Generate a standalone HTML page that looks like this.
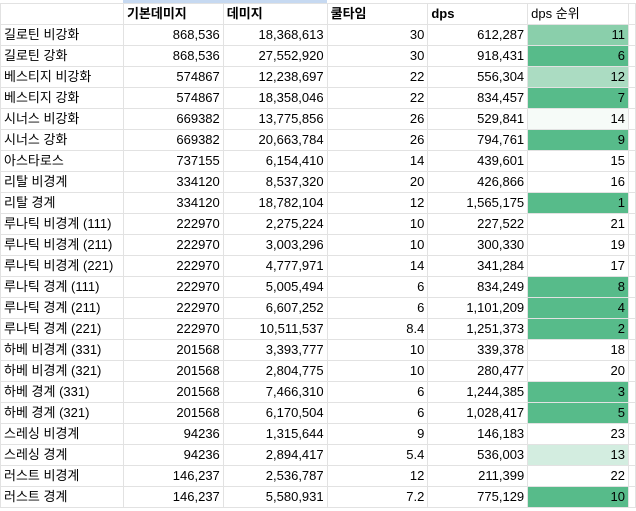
<!DOCTYPE html>
<html><head><meta charset="utf-8"><style>
body{margin:0;width:636px;height:511px;background:#fff;overflow:hidden;font-family:"Liberation Sans","Noto Sans CJK KR",sans-serif;font-size:13px;color:#000}
.top{position:absolute;left:123px;top:0;width:204px;height:3px;background:#c6d9f1}
table{position:absolute;left:0;top:3px;border-collapse:collapse;table-layout:fixed}
td{border:1px solid #e2e2e2;height:20px;padding:0 3px;white-space:nowrap;overflow:hidden;line-height:20px}
td.n{text-align:right}
tr.h td{font-weight:bold}
tr.h td.f{font-weight:normal}
tr:first-child td{border-top:1px solid #e2e2e2}
</style></head><body>
<div class="top"></div>
<table>
<colgroup><col style="width:123px"><col style="width:100px"><col style="width:104px"><col style="width:101px"><col style="width:100px"><col style="width:101px"><col style="width:7px"></colgroup>
<tr class="h"><td></td><td>기본데미지</td><td>데미지</td><td>쿨타임</td><td>dps</td><td class="f">dps 순위</td><td></td></tr>
<tr><td>길로틴 비강화</td><td class="n">868,536</td><td class="n">18,368,613</td><td class="n">30</td><td class="n">612,287</td><td class="n" style="background:#8acfab">11</td><td></td></tr>
<tr><td>길로틴 강화</td><td class="n">868,536</td><td class="n">27,552,920</td><td class="n">30</td><td class="n">918,431</td><td class="n" style="background:#57bb8a">6</td><td></td></tr>
<tr><td>베스티지 비강화</td><td class="n">574867</td><td class="n">12,238,697</td><td class="n">22</td><td class="n">556,304</td><td class="n" style="background:#abdcc2">12</td><td></td></tr>
<tr><td>베스티지 강화</td><td class="n">574867</td><td class="n">18,358,046</td><td class="n">22</td><td class="n">834,457</td><td class="n" style="background:#57bb8a">7</td><td></td></tr>
<tr><td>시너스 비강화</td><td class="n">669382</td><td class="n">13,775,856</td><td class="n">26</td><td class="n">529,841</td><td class="n" style="background:#f6fbf8">14</td><td></td></tr>
<tr><td>시너스 강화</td><td class="n">669382</td><td class="n">20,663,784</td><td class="n">26</td><td class="n">794,761</td><td class="n" style="background:#57bb8a">9</td><td></td></tr>
<tr><td>아스타로스</td><td class="n">737155</td><td class="n">6,154,410</td><td class="n">14</td><td class="n">439,601</td><td class="n">15</td><td></td></tr>
<tr><td>리탈 비경계</td><td class="n">334120</td><td class="n">8,537,320</td><td class="n">20</td><td class="n">426,866</td><td class="n">16</td><td></td></tr>
<tr><td>리탈 경계</td><td class="n">334120</td><td class="n">18,782,104</td><td class="n">12</td><td class="n">1,565,175</td><td class="n" style="background:#57bb8a">1</td><td></td></tr>
<tr><td>루나틱 비경계 (111)</td><td class="n">222970</td><td class="n">2,275,224</td><td class="n">10</td><td class="n">227,522</td><td class="n">21</td><td></td></tr>
<tr><td>루나틱 비경계 (211)</td><td class="n">222970</td><td class="n">3,003,296</td><td class="n">10</td><td class="n">300,330</td><td class="n">19</td><td></td></tr>
<tr><td>루나틱 비경계 (221)</td><td class="n">222970</td><td class="n">4,777,971</td><td class="n">14</td><td class="n">341,284</td><td class="n">17</td><td></td></tr>
<tr><td>루나틱 경계 (111)</td><td class="n">222970</td><td class="n">5,005,494</td><td class="n">6</td><td class="n">834,249</td><td class="n" style="background:#57bb8a">8</td><td></td></tr>
<tr><td>루나틱 경계 (211)</td><td class="n">222970</td><td class="n">6,607,252</td><td class="n">6</td><td class="n">1,101,209</td><td class="n" style="background:#57bb8a">4</td><td></td></tr>
<tr><td>루나틱 경계 (221)</td><td class="n">222970</td><td class="n">10,511,537</td><td class="n">8.4</td><td class="n">1,251,373</td><td class="n" style="background:#57bb8a">2</td><td></td></tr>
<tr><td>하베 비경계 (331)</td><td class="n">201568</td><td class="n">3,393,777</td><td class="n">10</td><td class="n">339,378</td><td class="n">18</td><td></td></tr>
<tr><td>하베 비경계 (321)</td><td class="n">201568</td><td class="n">2,804,775</td><td class="n">10</td><td class="n">280,477</td><td class="n">20</td><td></td></tr>
<tr><td>하베 경계 (331)</td><td class="n">201568</td><td class="n">7,466,310</td><td class="n">6</td><td class="n">1,244,385</td><td class="n" style="background:#57bb8a">3</td><td></td></tr>
<tr><td>하베 경계 (321)</td><td class="n">201568</td><td class="n">6,170,504</td><td class="n">6</td><td class="n">1,028,417</td><td class="n" style="background:#57bb8a">5</td><td></td></tr>
<tr><td>스레싱 비경계</td><td class="n">94236</td><td class="n">1,315,644</td><td class="n">9</td><td class="n">146,183</td><td class="n">23</td><td></td></tr>
<tr><td>스레싱 경계</td><td class="n">94236</td><td class="n">2,894,417</td><td class="n">5.4</td><td class="n">536,003</td><td class="n" style="background:#d3ede0">13</td><td></td></tr>
<tr><td>러스트 비경계</td><td class="n">146,237</td><td class="n">2,536,787</td><td class="n">12</td><td class="n">211,399</td><td class="n">22</td><td></td></tr>
<tr><td>러스트 경계</td><td class="n">146,237</td><td class="n">5,580,931</td><td class="n">7.2</td><td class="n">775,129</td><td class="n" style="background:#57bb8a">10</td><td></td></tr>
</table>
</body></html>
